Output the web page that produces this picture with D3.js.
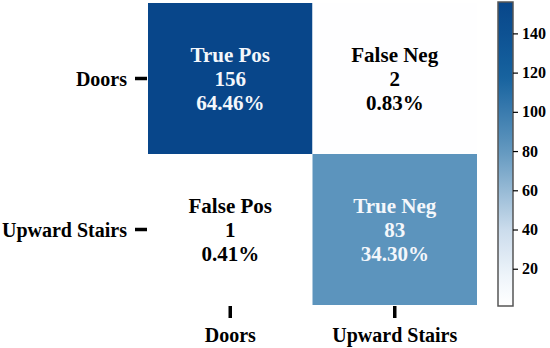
<!DOCTYPE html>
<html>
<head>
<meta charset="utf-8">
<script src="https://cdn.jsdelivr.net/npm/d3@7"></script>
</head>
<body style="margin:0; background:#fff">
<div id="chart-area"></div>
<script>
// Data
const rowLabels = ["Doors", "Upward Stairs"]
const colLabels = ["Doors", "Upward Stairs"]
const cellNames = [["True Pos", "False Neg"], ["False Pos", "True Neg"]]
const counts = [[156, 2], [1, 83]]
const barTicks = [20, 40, 60, 80, 100, 120, 140]

const WIDTH = 550, HEIGHT = 348
const FONT = "\"Liberation Serif\""

const svg = d3.select("#chart-area").append("svg")
	.attr("width", WIDTH)
	.attr("height", HEIGHT)

const total = d3.sum(counts.flat())
const vmin = d3.min(counts.flat())
const vmax = d3.max(counts.flat())

// Scales
const x = d3.scaleBand().domain(colLabels).range([148, 477])
const y = d3.scaleBand().domain(rowLabels).range([3, 305])

const color = d3.scaleLinear()
	.domain([vmin, vmin + (vmax - vmin) * 0.1, vmin + (vmax - vmin) * 0.25, vmin + (vmax - vmin) * 0.52, vmin + (vmax - vmin) * 0.76, vmax])
	.range(["#ffffff", "#eef4fa", "#cbdcec", "#5f96be", "#15619e", "#08468a"])
	.interpolate(d3.interpolateRgb)

// Cells
const cells = []
rowLabels.forEach((r, i) => {
	colLabels.forEach((c, j) => {
		cells.push({ row: r, col: c, name: cellNames[i][j], value: counts[i][j] })
	})
})

const cell = svg.selectAll("g.cell")
	.data(cells)
	.enter().append("g")
	.attr("class", "cell")
	.attr("transform", d => `translate(${x(d.col)}, ${y(d.row)})`)

cell.append("rect")
	.attr("width", x.bandwidth())
	.attr("height", y.bandwidth())
	.attr("fill", d => color(d.value))

const lines = d => [d.name, String(d.value), d3.format(".2%")(d.value / total)]
cell.each(function(d) {
	const g = d3.select(this)
	const fill = d.value > (vmax + vmin) / 2 * 0.8 ? "#f4f7fb" : "#000"
	lines(d).forEach((t, k) => {
		g.append("text")
			.attr("x", x.bandwidth() / 2)
			.attr("y", y.bandwidth() / 2 + (k - 1) * 24)
			.attr("dy", "0.35em")
			.attr("text-anchor", "middle")
			.style("font-family", FONT)
			.style("font-weight", "bold")
			.style("font-size", "21px")
			.attr("fill", fill)
			.text(t)
	})
})

// Left axis
const yAxis = svg.append("g")
	.selectAll("g")
	.data(rowLabels)
	.enter().append("g")
	.attr("transform", d => `translate(0, ${y(d) + y.bandwidth() / 2})`)
yAxis.append("line")
	.attr("x1", 135).attr("x2", 147)
	.attr("stroke", "#000").attr("stroke-width", 3.5)
yAxis.append("text")
	.attr("x", 127)
	.attr("dy", "0.35em")
	.attr("text-anchor", "end")
	.style("font-family", FONT)
	.style("font-weight", "bold")
	.style("font-size", "20px")
	.text(d => d)

// Bottom axis
const xAxis = svg.append("g")
	.selectAll("g")
	.data(colLabels)
	.enter().append("g")
	.attr("transform", d => `translate(${x(d) + x.bandwidth() / 2}, 0)`)
xAxis.append("line")
	.attr("y1", 306).attr("y2", 318)
	.attr("stroke", "#000").attr("stroke-width", 3.5)
xAxis.append("text")
	.attr("y", 335)
	.attr("dy", "0.35em")
	.attr("text-anchor", "middle")
	.style("font-family", FONT)
	.style("font-weight", "bold")
	.style("font-size", "20px")
	.text(d => d)

// Colorbar
const cb = d3.scaleLinear().domain([vmin, vmax]).range([306, 2])
const grad = svg.append("defs").append("linearGradient")
	.attr("id", "cbar")
	.attr("x1", 0).attr("y1", 1).attr("x2", 0).attr("y2", 0)
d3.range(0, 1.0001, 0.05).forEach(t => {
	grad.append("stop")
		.attr("offset", t)
		.attr("stop-color", color(vmin + t * (vmax - vmin)))
})
svg.append("rect")
	.attr("x", 498).attr("y", cb(vmax))
	.attr("width", 15).attr("height", cb(vmin) - cb(vmax))
	.attr("fill", "url(#cbar)")
	.attr("stroke", "#555").attr("stroke-width", 1.5)

const cbAxis = d3.axisRight(cb)
	.tickValues(barTicks)
	.tickSize(5)
	.tickPadding(4)
svg.append("g")
	.attr("transform", "translate(513, 0)")
	.call(cbAxis)
	.call(g => g.select(".domain").remove())
	.call(g => g.selectAll("line").attr("stroke", "#000").attr("stroke-width", 1.2))
	.call(g => g.selectAll("text")
		.style("font-family", FONT)
		.style("font-weight", "bold")
		.style("font-size", "16px")
		.attr("fill", "#000"))
</script>
</body>
</html>
